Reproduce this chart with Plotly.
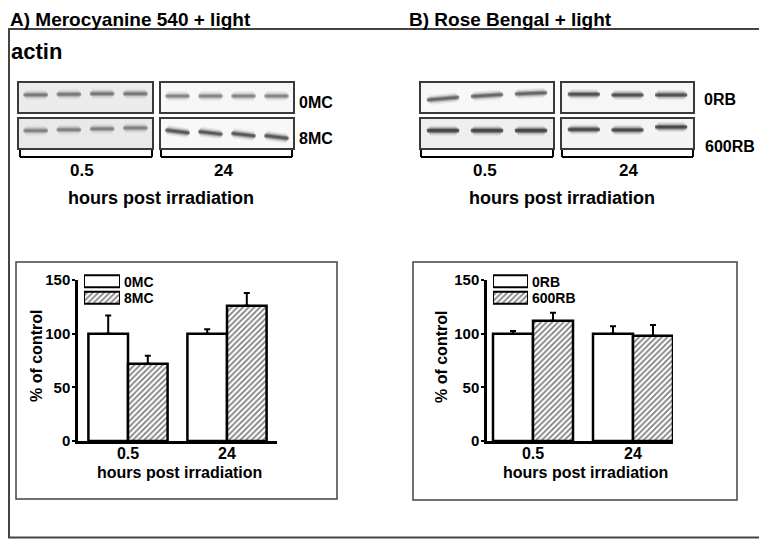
import plotly.graph_objects as go

W, H = 767, 539
OFF = 8  # the page draws the figure 8 px in from the window corner


def px(x):
    return max(x - OFF, 0) / W


def py(y):
    return 1 - max(y - OFF, 0) / H


# ---------------- data ----------------
times = ["0.5", "24"]
y_ticks = [0, 50, 100, 150]

mc_names = ["0MC", "8MC"]
mc_ctrl = [100, 100]
mc_ctrl_err = [17, 4]
mc_treat = [72, 126]
mc_treat_err = [7.5, 12]

rb_names = ["0RB", "600RB"]
rb_ctrl = [100, 100]
rb_ctrl_err = [2.5, 7]
rb_treat = [112, 98]
rb_treat_err = [7.5, 10]

# western blot (actin) bands: band height inside strip, darkness, slope
blot_A_0MC_05_pos = [0.59, 0.61, 0.63, 0.63]
blot_A_0MC_05_dark = [0.55, 0.55, 0.55, 0.5]
blot_A_0MC_24_pos = [0.55, 0.55, 0.55, 0.55]
blot_A_0MC_24_dark = [0.5, 0.5, 0.5, 0.5]
blot_A_8MC_05_pos = [0.60, 0.63, 0.66, 0.69]
blot_A_8MC_05_dark = [0.5, 0.5, 0.5, 0.45]
blot_A_8MC_24_pos = [0.57, 0.52, 0.46, 0.38]
blot_A_8MC_24_dark = [0.8, 0.8, 0.8, 0.8]
blot_B_0RB_05_pos = [0.46, 0.57, 0.64]
blot_B_0RB_05_dark = [0.7, 0.7, 0.7]
blot_B_0RB_24_pos = [0.61, 0.59, 0.59]
blot_B_0RB_24_dark = [0.9, 0.85, 0.85]
blot_B_600RB_05_pos = [0.60, 0.60, 0.60]
blot_B_600RB_05_dark = [1.0, 1.0, 1.0]
blot_B_600RB_24_pos = [0.64, 0.62, 0.72]
blot_B_600RB_24_dark = [0.95, 0.95, 0.9]
flat_slope = [0.0, 0.0, 0.0, 0.0]
blot_A_8MC_24_slope = [-0.05, -0.05, -0.05, -0.05]
blot_B_0RB_05_slope = [0.05, 0.035, 0.02]

SANS = "Liberation Sans, Arial, Helvetica"

fig = go.Figure()

# ---------------- bar charts ----------------
hatch = dict(shape="/", fgcolor="black", bgcolor="white", size=4, solidity=0.45)


def add_bars(xa, ya, names, ctrl, ctrl_err, treat, treat_err):
    fig.add_trace(go.Bar(
        x=times, y=ctrl, name=names[0], xaxis=xa, yaxis=ya, showlegend=False,
        marker=dict(color="white", line=dict(color="black", width=2.5)),
        error_y=dict(type="data", symmetric=False, array=ctrl_err,
                     arrayminus=[0] * len(ctrl_err), color="black",
                     thickness=2, width=3)))
    fig.add_trace(go.Bar(
        x=times, y=treat, name=names[1], xaxis=xa, yaxis=ya, showlegend=False,
        marker=dict(color="white", line=dict(color="black", width=2.5),
                    pattern=hatch),
        error_y=dict(type="data", symmetric=False, array=treat_err,
                     arrayminus=[0] * len(treat_err), color="black",
                     thickness=2, width=3)))


add_bars("x", "y", mc_names, mc_ctrl, mc_ctrl_err, mc_treat, mc_treat_err)
add_bars("x2", "y2", rb_names, rb_ctrl, rb_ctrl_err, rb_treat, rb_treat_err)

# legend keys (wide boxes as in the original)
for xa, ya, names in (("x3", "y3", mc_names), ("x4", "y4", rb_names)):
    fig.add_trace(go.Bar(
        y=names, x=[1, 1], orientation="h", width=0.72, xaxis=xa, yaxis=ya,
        showlegend=False, hoverinfo="skip",
        marker=dict(color="white", line=dict(color="black", width=2),
                    pattern=dict(shape=["", "/"], fgcolor="black",
                                 bgcolor="white", size=4, solidity=0.45))))

axis_common = dict(showgrid=False, zeroline=False, showline=True,
                   linecolor="black", linewidth=2.5, automargin=False)
ylay = dict(axis_common, range=[0, 150], tickvals=y_ticks, ticks="outside",
            ticklen=3, tickwidth=2, tickcolor="black", ticklabelstandoff=-1,
            tickfont=dict(family=SANS, size=15, color="black", weight=700))
xlay = dict(axis_common, type="category", ticks="", ticklabelstandoff=-4,
            tickfont=dict(family=SANS, size=16, color="black", weight=700))
hidden = dict(visible=False, automargin=False)

fig.update_layout(
    xaxis=dict(xlay, domain=[px(78), px(277)], range=[-0.505, 1.505], anchor="y"),
    yaxis=dict(ylay, domain=[py(441), py(280)], anchor="x"),
    xaxis2=dict(xlay, domain=[px(487), px(673)], range=[-0.46, 1.40], anchor="y2"),
    yaxis2=dict(ylay, domain=[py(441), py(280)], anchor="x2"),
    xaxis3=dict(hidden, domain=[px(84), px(120)], range=[0, 1], anchor="y3"),
    yaxis3=dict(hidden, domain=[py(306), py(273)], range=[1.5, -0.5],
                type="category", anchor="x3"),
    xaxis4=dict(hidden, domain=[px(493), px(528)], range=[0, 1], anchor="y4"),
    yaxis4=dict(hidden, domain=[py(306), py(273)], range=[1.5, -0.5],
                type="category", anchor="x4"),
)

# ---------------- blots ----------------
blots = [
    # (x0, x1, y0, y1 in px, band positions, darkness, slopes, background)
    (19, 152, 83, 112, blot_A_0MC_05_pos, blot_A_0MC_05_dark, flat_slope, "#ececec"),
    (161, 293, 83, 112, blot_A_0MC_24_pos, blot_A_0MC_24_dark, flat_slope, "#f7f7f7"),
    (19, 152, 119, 148, blot_A_8MC_05_pos, blot_A_8MC_05_dark, flat_slope, "#e9e9e9"),
    (161, 293, 119, 148, blot_A_8MC_24_pos, blot_A_8MC_24_dark, blot_A_8MC_24_slope, "#f8f8f8"),
    (421, 553, 83, 112, blot_B_0RB_05_pos, blot_B_0RB_05_dark, blot_B_0RB_05_slope, "#f8f8f8"),
    (562, 693, 83, 112, blot_B_0RB_24_pos, blot_B_0RB_24_dark, flat_slope, "#f6f6f6"),
    (421, 553, 119, 148, blot_B_600RB_05_pos, blot_B_600RB_05_dark, flat_slope, "#efefef"),
    (562, 693, 119, 148, blot_B_600RB_24_pos, blot_B_600RB_24_dark, flat_slope, "#f4f4f4"),
]

shapes = []
layers = [(10, 0.10, 0.30), (7, 0.20, 0.33), (4.5, 0.40, 0.36), (2.5, 0.55, 0.37)]
for i, (x0, x1, y0, y1, pos, dark, slope, bg) in enumerate(blots):
    n = 5 + i
    xa, ya = f"x{n}", f"y{n}"
    nl = len(pos)
    for width, alpha, hw in layers:
        xs, ys = [], []
        for lane in range(nl):
            c = lane + 1
            xs += [c - hw, c + hw, None]
            ys += [pos[lane] - slope[lane], pos[lane] + slope[lane], None]
        a = alpha * sum(dark) / nl
        fig.add_trace(go.Scatter(
            x=xs, y=ys, mode="lines", xaxis=xa, yaxis=ya, showlegend=False,
            hoverinfo="skip",
            line=dict(color=f"rgba(25,25,25,{a:.3f})", width=width)))
    fig.layout[f"xaxis{n}"] = dict(domain=[px(x0), px(x1)], range=[0.5, nl + 0.5],
                                   showgrid=False, zeroline=False, showticklabels=False,
                                   ticks="", showline=True, mirror=True, automargin=False,
                                   linecolor="#3a3a3a", linewidth=2, anchor=ya)
    fig.layout[f"yaxis{n}"] = dict(domain=[py(y1), py(y0)], range=[0, 1],
                                   showgrid=False, zeroline=False, showticklabels=False,
                                   ticks="", showline=True, mirror=True, automargin=False,
                                   linecolor="#3a3a3a", linewidth=2, anchor=xa)
    shapes.append(dict(type="rect", xref=f"{xa} domain", yref=f"{ya} domain",
                       x0=0, x1=1, y0=0, y1=1, layer="below",
                       line=dict(width=0), fillcolor=bg))

# brackets under each time point
for bx0, bx1 in ((20, 152), (161, 292), (421, 553), (562, 693)):
    for a in ((bx0, 157, bx1, 157), (bx0, 150, bx0, 157), (bx1, 150, bx1, 157)):
        shapes.append(dict(type="line", xref="paper", yref="paper",
                           x0=px(a[0]), y0=py(a[1]), x1=px(a[2]), y1=py(a[3]),
                           line=dict(color="black", width=2)))

# frames
shapes.append(dict(type="rect", xref="paper", yref="paper", x0=px(9), x1=px(764),
                   y0=py(537.5), y1=py(29), line=dict(color="#444", width=2)))
shapes.append(dict(type="rect", xref="paper", yref="paper", x0=px(16), x1=px(337),
                   y0=py(499), y1=py(262), line=dict(color="#444", width=1.5)))
shapes.append(dict(type="rect", xref="paper", yref="paper", x0=px(413), x1=px(737),
                   y0=py(500), y1=py(262), line=dict(color="#444", width=1.5)))

# ---------------- text ----------------
ann = []


def text(t, x, y, size, xanchor="center", angle=0, yanchor="middle", pad=1):
    ann.append(dict(text=t, x=px(x), y=py(y), xref="paper", yref="paper",
                    showarrow=False, xanchor=xanchor, yanchor=yanchor,
                    textangle=angle, borderpad=pad,
                    font=dict(family=SANS, size=size, color="black", weight=700)))


text("A) Merocyanine 540 + light", 9, 8, 19, xanchor="left", yanchor="top", pad=0)
text("B) Rose Bengal + light", 408, 8, 19, xanchor="left", yanchor="top", pad=0)
text("actin", 9, 52, 22, xanchor="left")
text(mc_names[0], 297, 103, 16, xanchor="left")
text(mc_names[1], 297, 138, 16, xanchor="left")
text(rb_names[0], 702, 100, 16, xanchor="left")
text(rb_names[1], 703, 147, 16, xanchor="left")
for cx, t in ((82, times[0]), (223, times[1]), (485, times[0]), (628, times[1])):
    text(t, cx, 170, 17)
text("hours post irradiation", 161, 198, 18)
text("hours post irradiation", 562, 198, 18)

text("% of control", 36, 356, 16, angle=-90)
text("% of control", 441, 357, 16, angle=-90)
text("hours post irradiation", 179, 472, 16)
text("hours post irradiation", 585, 472, 16)
text(mc_names[0], 122, 282, 14, xanchor="left")
text(mc_names[1], 122, 298, 14, xanchor="left")
text(rb_names[0], 530, 282, 14, xanchor="left")
text(rb_names[1], 530, 298, 14, xanchor="left")

fig.update_layout(
    width=W, height=H,
    margin=dict(l=0, r=0, t=0, b=0, pad=0, autoexpand=False),
    paper_bgcolor="white", plot_bgcolor="rgba(0,0,0,0)",
    barmode="group", bargap=0.2, bargroupgap=0,
    showlegend=False, shapes=shapes, annotations=ann,
)

fig.write_html("out.html")
